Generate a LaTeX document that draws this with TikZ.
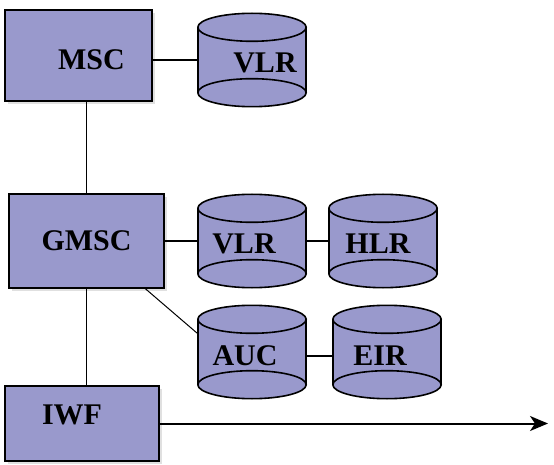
\documentclass[tikz,border=0pt]{standalone}
\usepackage{fontspec}
\setmainfont{Liberation Serif}
\usetikzlibrary{arrows.meta,positioning,shadows}
\definecolor{gsmblue}{HTML}{9999CC}

\begin{document}
\begin{tikzpicture}[x=1pt, y=1pt,
    unit/.style={draw, line width=2pt, rectangle, fill=gsmblue, outer sep=0pt, inner sep=0pt,
      drop shadow={shadow xshift=3pt, shadow yshift=-3pt, fill=black!12, opacity=1}},
    db/.style={rectangle, minimum width=110pt, minimum height=95pt, outer sep=0pt, inner sep=0pt,
      path picture={
        \begin{scope}[shift={(path picture bounding box.center)}, line width=1.6pt]
          \fill[gsmblue] (-54.2,32.7) rectangle (54.2,-32.7);
          \filldraw[fill=gsmblue] (0,-32.7) ellipse [x radius=54.2pt, y radius=14pt];
          \filldraw[fill=gsmblue] (0,32.7) ellipse [x radius=54.2pt, y radius=14pt];
          \draw (-54.2,32.7) -- (-54.2,-32.7) (54.2,32.7) -- (54.2,-32.7);
        \end{scope}}},
    lbl/.style={font=\bfseries\fontsize{30}{32}\selectfont},
    link/.style={line width=1.2pt}]
      \useasboundingbox (0,0) rectangle (554,-465);

      % Nodes
      \node[unit, minimum width=147pt, minimum height=91pt, label={[lbl,xshift=13pt,yshift=-4pt]center:MSC}] (msc) at (78.5,-55.5) {};
      \node[db, right=45pt of msc, yshift=-4.5pt, label={[lbl,xshift=13pt,yshift=-3pt]center:VLR}] (vlrmsc) {};
      \node[unit, minimum width=155pt, minimum height=94pt, below=93pt of msc, xshift=8pt, label={[lbl]center:GMSC}] (gmsc) {};
      \node[db, right=33pt of gmsc, label={[lbl,xshift=-8pt,yshift=-3pt]center:VLR}] (vlr) {};
      \node[db, right=21pt of vlr, label={[lbl,xshift=-5pt,yshift=-3pt]center:HLR}] (hlr) {};
      \node[db, below=16pt of vlr, label={[lbl,xshift=-7pt,yshift=-4pt]center:AUC}] (auc) {};
      \node[db, right=25pt of auc, label={[lbl,xshift=-7pt,yshift=-4pt]center:EIR}] (eir) {};
      \node[unit, minimum width=154pt, minimum height=75pt, below=98pt of gmsc, xshift=-4.5pt, label={[lbl,xshift=-10pt,yshift=9pt]center:IWF}] (iwf) {};
      \coordinate[right=389pt of iwf] (out);

      % Lines
      \draw[link] (vlrmsc.west -| msc.east) -- (vlrmsc.west);
      \draw[link, line width=1pt] (gmsc.north |- msc.south) -- (gmsc.north);
      \draw[link] (gmsc) -- (vlr);
      \draw[link] (vlr) -- (hlr);
      \draw[link, line width=1pt] (gmsc.-39) -- (auc.161);
      \draw[link] ([yshift=-4pt]auc.east) -- ([yshift=-4pt]eir.west);
      \draw[link, line width=1pt] (gmsc.south) -- (gmsc.south |- iwf.north);
      \draw[-{Stealth[length=18pt,width=15pt,inset=5pt]}, line width=2pt] (iwf.east) -- (out);
    \end{tikzpicture}
\end{document}
